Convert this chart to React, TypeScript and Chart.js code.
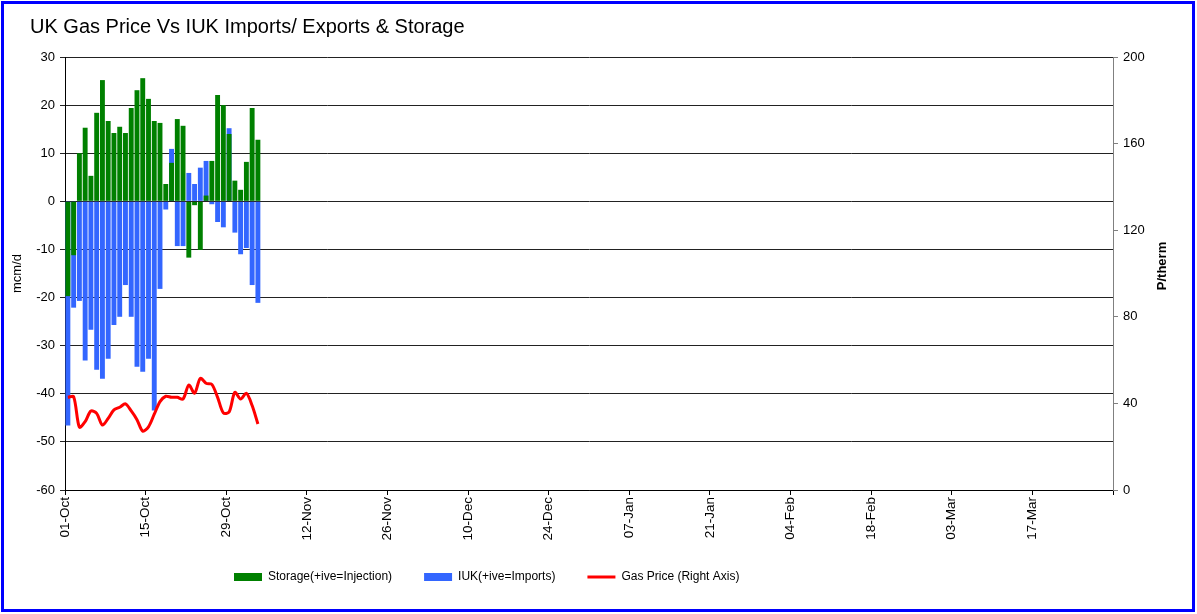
import React, { useEffect, useRef } from 'react';
import { Chart, registerables } from 'chart.js';

Chart.register(...registerables);

// ---- data ----
const DAY_LABELS = [
  '01-Oct', '02-Oct', '03-Oct', '04-Oct', '05-Oct', '06-Oct', '07-Oct', '08-Oct', '09-Oct', '10-Oct',
  '11-Oct', '12-Oct', '13-Oct', '14-Oct', '15-Oct', '16-Oct', '17-Oct', '18-Oct', '19-Oct', '20-Oct',
  '21-Oct', '22-Oct', '23-Oct', '24-Oct', '25-Oct', '26-Oct', '27-Oct', '28-Oct', '29-Oct', '30-Oct',
  '31-Oct', '01-Nov', '02-Nov', '03-Nov',
];

const STORAGE = [
  -19.7, -11.2, 10.0, 15.3, 5.3, 18.4, 25.2, 16.7, 14.2, 15.5,
  14.2, 19.4, 23.1, 25.6, 21.3, 16.7, 16.3, 3.6, 8.0, 17.1,
  15.7, -11.7, -0.8, -10.1, 1.2, 8.4, 22.1, 20.0, 14.0, 4.3,
  2.4, 8.2, 19.4, 12.8,
];

const IUK = [
  -46.6, -22.1, -20.7, -33.1, -26.7, -35.0, -36.9, -32.7, -25.7, -24.0,
  -17.4, -24.0, -34.4, -35.4, -32.7, -43.5, -18.2, -1.7, 10.9, -9.3,
  -9.3, 5.9, 3.6, 7.0, 8.4, -0.6, -4.3, -5.4, 15.2, -6.5,
  -11.0, -9.7, -17.4, -21.1,
];

const GAS_PRICE = [
  42.8, 43.1, 29.0, 31.6, 36.5, 35.4, 30.0, 33.1, 37.0, 38.2,
  39.8, 36.5, 32.5, 27.2, 29.2, 35.0, 40.8, 43.3, 42.8, 42.8,
  42.0, 48.5, 44.7, 51.6, 49.3, 48.8, 42.8, 35.6, 36.0, 45.1,
  42.0, 44.7, 39.0, 30.5,
];

const X_TICK_LABELS = [
  '01-Oct', '15-Oct', '29-Oct', '12-Nov', '26-Nov', '10-Dec', '24-Dec',
  '07-Jan', '21-Jan', '04-Feb', '18-Feb', '03-Mar', '17-Mar',
];

const SEASON_DAYS = 182;
const TICK_STEP = 14;

// ---- layout constants ----
const W = 1197;
const H = 614;
const PLOT_LEFT = 65;
const PLOT_RIGHT = 1113;
const PLOT_BOTTOM = 490;
const TITLE_X = 30;
const LEGEND_X = 234;
const LEGEND_CY = 577;
const LEGEND_FS = 12;
const LEGEND_PAD = 32;
const FONT = '"Liberation Sans", Arial, Helvetica, sans-serif';

const placeBoxes = {
  id: 'placeBoxes',
  afterLayout(chart: any) {
    const t = chart.titleBlock;
    if (t) {
      const w = t.right - t.left;
      t.left = TITLE_X;
      t.right = TITLE_X + w;
    }
    const lg = chart.legend;
    if (lg) {
      const w = lg.right - lg.left;
      const h = lg.bottom - lg.top;
      lg.left = LEGEND_X - LEGEND_PAD;
      lg.right = lg.left + w;
      lg.top = LEGEND_CY - LEGEND_FS / 2 - LEGEND_PAD;
      lg.bottom = lg.top + h;
    }
  },
  afterDraw(chart: any) {
    const ctx = chart.ctx;
    ctx.save();
    ctx.translate(1162, 266);
    ctx.rotate(-Math.PI / 2);
    ctx.font = `bold 13px ${FONT}`;
    ctx.fillStyle = '#000';
    ctx.textAlign = 'center';
    ctx.textBaseline = 'middle';
    ctx.fillText('P/therm', 0, 0);
    ctx.restore();
  },
};

export default function App() {
  const ref = useRef<HTMLCanvasElement | null>(null);

  useEffect(() => {
    if (!ref.current) return;
    Chart.defaults.font.family = FONT;
    Chart.defaults.color = '#000';

    const xs = DAY_LABELS.map((_, i) => i + 0.5);

    const chart = new Chart(ref.current, {
      type: 'bar',
      data: {
        datasets: [
          {
            type: 'bar',
            label: 'Storage(+ive=Injection)',
            data: xs.map((x, i) => ({ x, y: STORAGE[i] })),
            backgroundColor: '#008000',
            borderWidth: 0,
            grouped: false,
            barPercentage: 0.85,
            categoryPercentage: 1,
            yAxisID: 'y',
            order: 1,
            pointStyle: 'rect',
          } as any,
          {
            type: 'bar',
            label: 'IUK(+ive=Imports)',
            data: xs.map((x, i) => ({ x, y: IUK[i] })),
            backgroundColor: '#3366ff',
            borderWidth: 0,
            grouped: false,
            barPercentage: 0.85,
            categoryPercentage: 1,
            yAxisID: 'y',
            order: 2,
            pointStyle: 'rect',
          } as any,
          {
            type: 'line',
            label: 'Gas Price (Right Axis)',
            data: xs.map((x, i) => ({ x, y: GAS_PRICE[i] })),
            borderColor: '#ff0000',
            backgroundColor: '#ff0000',
            borderWidth: 3,
            pointRadius: 0,
            tension: 0.3,
            yAxisID: 'y1',
            order: 0,
            pointStyle: 'line',
          } as any,
        ],
      },
      options: {
        responsive: false,
        animation: false,
        layout: { padding: 0 },
        scales: {
          x: {
            type: 'linear',
            min: 0,
            max: SEASON_DAYS,
            offset: false,
            grid: { drawOnChartArea: false, offset: false, tickLength: 5, color: '#000' },
            border: { display: true, color: '#000', width: 1 },
            ticks: {
              stepSize: TICK_STEP,
              autoSkip: false,
              minRotation: 90,
              maxRotation: 90,
              padding: 2,
              font: { size: 13.5 },
              color: '#000',
              callback: (v: any) => X_TICK_LABELS[Math.round(Number(v) / TICK_STEP)] ?? '',
            },
            afterFit: (s: any) => {
              const lh = s.chart.legend ? s.chart.legend.height : LEGEND_FS + LEGEND_PAD + 10;
              s.height = H - PLOT_BOTTOM - lh;
            },
          } as any,
          y: {
            type: 'linear',
            position: 'left',
            min: -60,
            max: 30,
            grid: { color: '#222', lineWidth: 1, tickLength: 5 },
            border: { display: true, color: '#000', width: 1 },
            ticks: { stepSize: 10, padding: 5, font: { size: 13 }, color: '#000' },
            title: { display: true, text: 'mcm/d', font: { size: 13 }, color: '#000', padding: { top: 10, bottom: 0 } },
            afterFit: (s: any) => { s.width = PLOT_LEFT; },
          } as any,
          y1: {
            type: 'linear',
            position: 'right',
            min: 0,
            max: 200,
            grid: { drawOnChartArea: false, tickLength: 5, color: '#808080' },
            border: { display: true, color: '#808080', width: 1 },
            ticks: { stepSize: 40, padding: 5, font: { size: 13 }, color: '#000' },
            afterFit: (s: any) => { s.width = W - PLOT_RIGHT; },
          } as any,
        },
        plugins: {
          title: {
            display: true,
            text: 'UK Gas Price Vs IUK Imports/ Exports & Storage',
            align: 'start',
            color: '#000',
            font: { size: 20, weight: 'normal' },
            padding: { top: 15, bottom: 18 },
          },
          legend: {
            display: true,
            position: 'bottom',
            align: 'start',
            labels: {
              usePointStyle: true,
              pointStyleWidth: 28,
              boxHeight: 8,
              padding: LEGEND_PAD,
              color: '#000',
              font: { size: LEGEND_FS },
              sort: (a: any, b: any) => a.datasetIndex - b.datasetIndex,
            },
          },
          tooltip: { enabled: false },
        },
      } as any,
      plugins: [placeBoxes],
    });

    return () => chart.destroy();
  }, []);

  return (
    <div style={{ position: 'absolute', left: 0, top: 0, width: W, height: H, background: '#fff' }}>
      <canvas ref={ref} width={W} height={H} style={{ display: 'block', width: W, height: H }} />
      <div
        style={{
          position: 'absolute',
          left: 1,
          top: 1,
          width: 1194,
          height: 611,
          border: '3px solid #0000ff',
          boxSizing: 'border-box',
          pointerEvents: 'none',
        }}
      />
    </div>
  );
}
